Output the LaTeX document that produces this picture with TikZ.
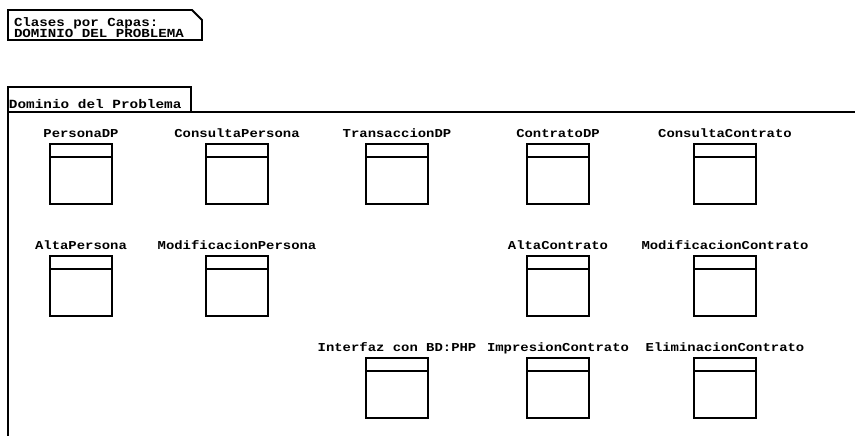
\documentclass[tikz,border=0pt]{standalone}
\usepackage{fontspec}
\setmonofont{Liberation Mono}[FakeStretch=1.15]
\usepackage{tikz}
\usetikzlibrary{positioning}

\newcommand{\umlfont}{\ttfamily\bfseries\fontsize{12.1}{11}\selectfont}

\begin{document}
\begin{tikzpicture}[
    x=1pt, y=-1pt,
    font=\umlfont,
    linea/.style  ={line width=1.8pt},
    clase/.style  ={draw, linea, anchor=north, outer sep=0pt, minimum width=62pt, minimum height=60pt, inner sep=0pt,
                    path picture={\draw[linea] ([yshift=-13pt]path picture bounding box.north west) -- ([yshift=-13pt]path picture bounding box.north east);}},
    nombre/.style ={inner sep=0pt, text depth=0pt, label distance=6pt},
    nota/.style   ={anchor=base west, align=left, inner sep=0pt, outer sep=0pt, font=\ttfamily\bfseries\fontsize{12.3}{11}\selectfont},
    pestana/.style={draw, linea, anchor=south west, outer sep=0pt, align=flush left, text width=181pt, inner xsep=1pt, inner ysep=1pt,
                    text height=21pt, text depth=2pt, font=\ttfamily\bfseries\fontsize{12.5}{11}\selectfont},
    paquete/.style={draw, linea, anchor=north west, outer sep=0pt, minimum width=870pt, minimum height=350pt},
]
\useasboundingbox (0,0) rectangle (855,436);

% ---- Nota ----
\node[nota] (nota) at (14,37.5) {Clases por Capas:\\DOMINIO DEL PROBLEMA};
\draw[linea] (nota.base west) ++(-6,-27.5) -- ++(184,0) -- ++(10,10) -- ++(0,20) -- ++(-194,0) -- cycle;

% ---- Paquete ----
\node[paquete] (dominio) at (8,112) {};
\node[pestana] (pestana) at (8,112) {Dominio del Problema};

% ---- Clases: fila 1 ----
\node[clase, label={[nombre]above:PersonaDP}] (personaDP) at (81,144) {};
\node[clase, label={[nombre]above:ConsultaPersona}] (consultaPersona) at (237,144) {};
\node[clase, label={[nombre]above:TransaccionDP}] (transaccionDP) at (397,144) {};
\node[clase, label={[nombre]above:ContratoDP}] (contratoDP) at (558,144) {};
\node[clase, label={[nombre]above:ConsultaContrato}] (consultaContrato) at (725,144) {};

% ---- Clases: fila 2 ----
\node[clase, below=52pt of personaDP, label={[nombre]above:AltaPersona}] (altaPersona) {};
\node[clase, below=52pt of consultaPersona, label={[nombre]above:ModificacionPersona}] (modificacionPersona) {};
\node[clase, below=52pt of contratoDP, label={[nombre]above:AltaContrato}] (altaContrato) {};
\node[clase, below=52pt of consultaContrato, label={[nombre]above:ModificacionContrato}] (modificacionContrato) {};

% ---- Clases: fila 3 ----
\node[clase, label={[nombre]above:{Interfaz con BD:PHP}}] (interfazBD) at (397,358) {};
\node[clase, below=42pt of altaContrato, label={[nombre]above:ImpresionContrato}] (impresionContrato) {};
\node[clase, below=42pt of modificacionContrato, label={[nombre]above:EliminacionContrato}] (eliminacionContrato) {};

\end{tikzpicture}
\end{document}
